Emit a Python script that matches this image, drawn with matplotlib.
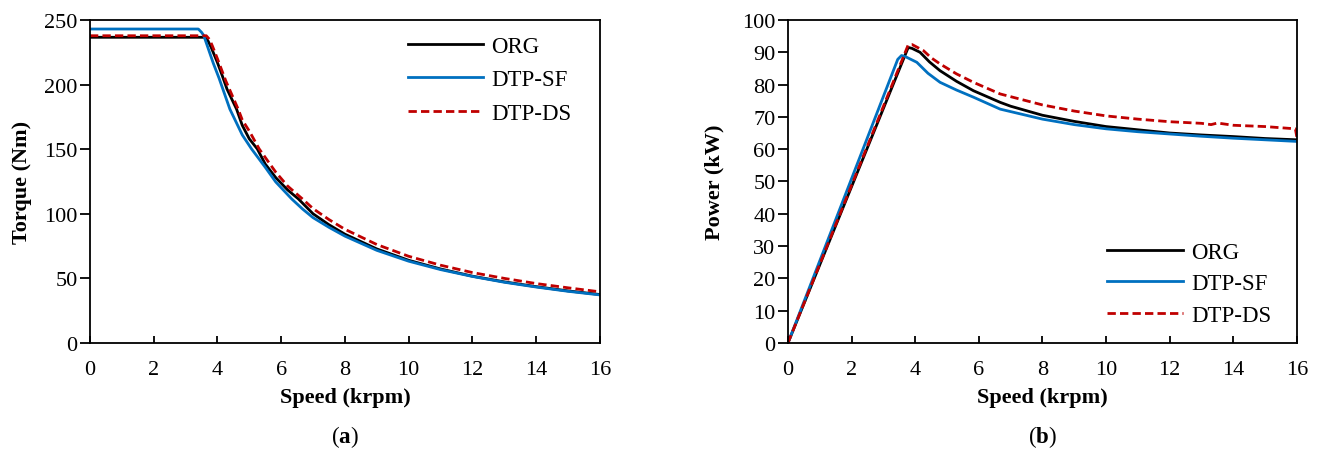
import matplotlib
matplotlib.use('Agg')
import matplotlib.pyplot as plt

plt.rcParams['font.family'] = ['Liberation Serif', 'DejaVu Serif']
plt.rcParams['mathtext.fontset'] = 'custom'
plt.rcParams['mathtext.rm'] = 'Liberation Serif'
plt.rcParams['mathtext.bf'] = 'Liberation Serif:bold'

# torque vs speed (krpm, Nm)
spd_org = [0, 3.6, 3.7, 3.8, 3.9, 4.0, 4.15, 4.3, 4.6, 4.78, 5.0, 5.25, 5.5, 5.83, 6.2, 6.54, 7.0, 7.5, 8.0, 9.0, 10.0, 11.0, 12.0, 13.0, 14.0, 15.0, 16.0]
trq_org = [236.6, 236.6, 234, 229, 223, 217, 207, 196.5, 181, 168.4, 158, 150.2, 138.5, 128, 118.5, 111.5, 100, 91.5, 84.2, 72.8, 64.0, 57.3, 51.7, 47.3, 43.6, 40.3, 37.5]
spd_sf = [0, 3.4, 3.5, 3.57, 3.7, 3.87, 4.05, 4.39, 4.78, 5.07, 5.5, 5.83, 6.33, 6.67, 7.0, 7.5, 8.0, 9.0, 10.0, 11.0, 12.0, 13.0, 14.0, 15.0, 16.0]
trq_sf = [243, 243, 240.5, 238, 228.7, 216.5, 205, 181, 161, 150.2, 136, 124.6, 111.5, 103.7, 97, 89.5, 82.7, 71.7, 63.3, 56.8, 51.5, 47, 43.3, 40, 37.2]
spd_ds = [0, 3.65, 3.75, 3.84, 4.0, 4.26, 4.65, 4.78, 5.0, 5.31, 5.83, 6.2, 6.69, 7.0, 7.5, 8.0, 9.0, 10.0, 11.0, 12.0, 13.0, 14.0, 15.0, 16.0]
trq_ds = [237.8, 237.8, 235, 230, 220, 203, 181, 172.6, 164, 150.2, 132.2, 121.5, 111, 104, 95.5, 88, 76.2, 67.1, 60.2, 54.5, 50, 46, 42.7, 39.6]

# power vs speed (krpm, kW)
pspd_org = [0, 3.78, 3.9, 4.15, 4.45, 4.78, 5.3, 5.83, 6.67, 7.0, 8.0, 9.0, 10.0, 11.0, 12.0, 13.0, 14.0, 15.0, 16.0]
pwr_org = [0, 91.5, 91.2, 90.0, 87.0, 84.3, 81.0, 78.1, 74.5, 73.3, 70.5, 68.6, 67.0, 66.0, 65.0, 64.4, 63.9, 63.3, 62.9]
pspd_sf = [0, 3.45, 3.57, 3.7, 4.05, 4.4, 4.78, 5.3, 5.83, 6.67, 8.0, 9.0, 10.0, 11.0, 12.0, 13.0, 14.0, 15.0, 16.0]
pwr_sf = [0, 87.8, 89.0, 88.6, 86.9, 83.5, 80.7, 78.3, 76.1, 72.4, 69.3, 67.6, 66.3, 65.4, 64.7, 64.0, 63.4, 62.9, 62.4]
pspd_ds = [0, 3.78, 3.9, 4.26, 4.5, 4.78, 5.3, 5.83, 6.67, 8.0, 9.0, 10.0, 11.0, 12.0, 13.0, 13.3, 13.5, 14.0, 15.0, 15.95, 16.0]
pwr_ds = [0, 92.3, 92.4, 90.5, 88.3, 86.4, 83.3, 80.7, 77.1, 73.7, 71.8, 70.3, 69.3, 68.5, 68.0, 67.6, 68.1, 67.4, 67.0, 66.3, 63.5]

labels = ['ORG', 'DTP-SF', 'DTP-DS']
colors = ['black', '#0070C0', '#C00000']

fig = plt.figure(figsize=(13.21, 4.52), dpi=100)
ax1 = fig.add_axes([0.0681, 0.239, 0.386, 0.7146])
ax2 = fig.add_axes([0.5965, 0.239, 0.3853, 0.7146])

ax1.plot(spd_org, trq_org, color=colors[0], lw=2, label=labels[0])
ax1.plot(spd_sf, trq_sf, color=colors[1], lw=2, label=labels[1])
ax1.plot(spd_ds, trq_ds, color=colors[2], lw=2, ls=(0, (3, 1.5)), label=labels[2])

ax2.plot(pspd_org, pwr_org, color=colors[0], lw=2, label=labels[0])
ax2.plot(pspd_sf, pwr_sf, color=colors[1], lw=2, label=labels[1])
ax2.plot(pspd_ds, pwr_ds, color=colors[2], lw=2, ls=(0, (3, 1.5)), label=labels[2])

ax1.set_ylim(0, 250)
ax1.set_yticks(range(0, 251, 50))
ax2.set_ylim(0, 100)
ax2.set_yticks(range(0, 101, 10))
ax1.set_ylabel('Torque (Nm)', fontsize=16, fontweight='bold', labelpad=9)
ax2.set_ylabel('Power (kW)', fontsize=16, fontweight='bold', labelpad=13)

for ax in (ax1, ax2):
    ax.set_xlim(0, 16)
    ax.set_xticks(range(0, 17, 2))
    ax.set_xlabel('Speed (krpm)', fontsize=16, fontweight='bold', labelpad=6)
    ax.tick_params(axis='x', direction='in', length=5, width=1.3, pad=12, labelsize=16)
    ax.tick_params(axis='y', direction='out', length=7, width=1.3, pad=2, labelsize=16)
    for s in ax.spines.values():
        s.set_linewidth(1.3)

ax1.legend(loc='upper right', frameon=False, fontsize=16.5, handlelength=3.3,
           labelspacing=0.55, handletextpad=0.35, bbox_to_anchor=(0.985, 1.015))
ax2.legend(loc='lower right', frameon=False, fontsize=16.5, handlelength=3.3,
           labelspacing=0.45, handletextpad=0.35, bbox_to_anchor=(0.99, -0.01))

fig.text(0.0681 + 0.386 / 2, 0.033, r'($\mathbf{a}$)', ha='center', va='center', fontsize=16.5)
fig.text(0.5965 + 0.3853 / 2, 0.033, r'($\mathbf{b}$)', ha='center', va='center', fontsize=16.5)

fig.savefig('out.png', dpi=100)
